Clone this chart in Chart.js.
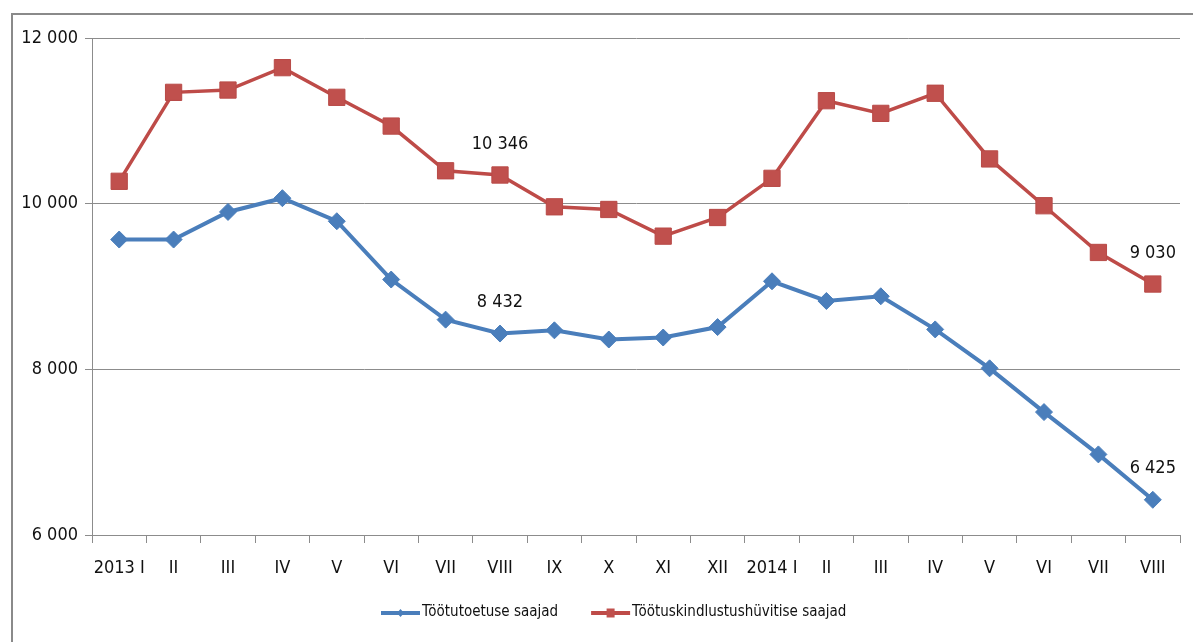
<!DOCTYPE html>
<html><head><meta charset="utf-8">
<script src="https://cdn.jsdelivr.net/npm/chart.js@4/dist/chart.umd.min.js"></script>
<style>
html,body{margin:0;padding:0;background:#fff;overflow:hidden;}
#wrap{position:relative;width:1193px;height:642px;overflow:hidden;}
#frame{position:absolute;left:11px;top:13px;width:1300px;height:800px;border-left:2px solid #8a8a8a;border-top:2px solid #8a8a8a;}
canvas{position:absolute;left:0;top:0;}
</style></head><body>
<div id="wrap"><div id="frame"></div><canvas id="c" width="1193" height="642"></canvas></div>
<script>
// ---- data ----
const categories = ["2013 I","II","III","IV","V","VI","VII","VIII","IX","X","XI","XII","2014 I","II","III","IV","V","VI","VII","VIII"];
const toetuseSaajad = [9567, 9567, 9900, 10066, 9788, 9084, 8600, 8432, 8471, 8360, 8384, 8510, 9063, 8825, 8882, 8482, 8012, 7484, 6973, 6425];
const hyvitiseSaajad = [10270, 11344, 11372, 11642, 11284, 10937, 10397, 10346, 9962, 9930, 9608, 9833, 10306, 11243, 11090, 11333, 10540, 9975, 9411, 9030];
const seriesNames = ["Töötutoetuse saajad", "Töötuskindlustushüvitise saajad"];
const yMin = 6000, yMax = 12000, yStep = 2000;
const labelledPoints = [7, 19];

const FONT = "'DejaVu Sans Condensed', 'Liberation Sans', sans-serif";
const BLUE = "#4a7ebb", RED = "#be4b48";
const fmt = v => String(v).replace(/\B(?=(\d{3})+(?!\d))/g, " ");

const valueLabels = {
  id: "valueLabels",
  afterDatasetsDraw(chart) {
    const ctx = chart.ctx;
    ctx.save();
    ctx.font = "18px " + FONT;
    ctx.fillStyle = "#111";
    ctx.textAlign = "center";
    ctx.textBaseline = "middle";
    chart.data.datasets.forEach((ds, di) => {
      const meta = chart.getDatasetMeta(di);
      labelledPoints.forEach(i => {
        const p = meta.data[i];
        ctx.fillText(fmt(ds.data[i]), p.x, p.y - 31);
      });
    });
    ctx.restore();
  }
};

const customLegend = {
  id: "customLegend",
  afterDraw(chart) {
    const ctx = chart.ctx;
    ctx.save();
    ctx.font = "15px " + FONT;
    ctx.textBaseline = "middle";
    ctx.fillStyle = "#111";
    const y = 613;
    let x = 381;
    chart.data.datasets.forEach((ds, di) => {
      ctx.strokeStyle = ds.borderColor;
      ctx.lineWidth = 4;
      ctx.beginPath(); ctx.moveTo(x, y); ctx.lineTo(x + 39, y); ctx.stroke();
      ctx.fillStyle = ds.pointBackgroundColor;
      ctx.beginPath();
      if (di === 0) {
        ctx.moveTo(x + 19.5, y - 4); ctx.lineTo(x + 23, y); ctx.lineTo(x + 19.5, y + 4); ctx.lineTo(x + 16, y);
      } else {
        ctx.rect(x + 15.5, y - 4.5, 8, 9);
      }
      ctx.fill();
      ctx.fillStyle = "#111";
      ctx.fillText(ds.label, x + 41, y - 1);
      x += 41 + ctx.measureText(ds.label).width + 33;
    });
    ctx.restore();
  }
};

new Chart(document.getElementById("c"), {
  type: "line",
  data: {
    labels: categories,
    datasets: [
      { label: seriesNames[0], data: toetuseSaajad, borderColor: BLUE, backgroundColor: BLUE,
        pointBackgroundColor: BLUE, pointBorderColor: BLUE, borderWidth: 4, pointStyle: "rectRot",
        pointRadius: 8.5, pointBorderWidth: 1, tension: 0 },
      { label: seriesNames[1], data: hyvitiseSaajad, borderColor: RED, backgroundColor: RED,
        pointBackgroundColor: "#c0504d", pointBorderColor: "#b84a47", borderWidth: 3.5, pointStyle: "rect",
        pointRadius: 11.5, pointBorderWidth: 1, tension: 0 }
    ]
  },
  options: {
    responsive: false,
    animation: false,
    devicePixelRatio: 1,
    layout: { padding: { top: 38, right: 13, left: 0, bottom: 0 } },
    plugins: { legend: { display: false }, tooltip: { enabled: false } },
    scales: {
      x: {
        offset: true,
        grid: { offset: true, drawOnChartArea: false, color: "#8c8c8c", tickLength: 8, tickColor: "#8c8c8c" },
        border: { color: "#8c8c8c", width: 1 },
        ticks: { font: { family: FONT, size: 18 }, color: "#111", padding: 15, maxRotation: 0, autoSkip: false },
        afterFit(s) { s.height = 107; }
      },
      y: {
        min: yMin, max: yMax,
        grid: { color: "#8c8c8c", tickLength: 7, lineWidth: 1 },
        border: { color: "#8c8c8c", width: 1 },
        ticks: { stepSize: yStep, font: { family: FONT, size: 18 }, color: "#111", padding: 7, callback: v => fmt(v) },
        afterFit(s) { s.width = 92; }
      }
    }
  },
  plugins: [valueLabels, customLegend]
});
</script>
</body></html>
